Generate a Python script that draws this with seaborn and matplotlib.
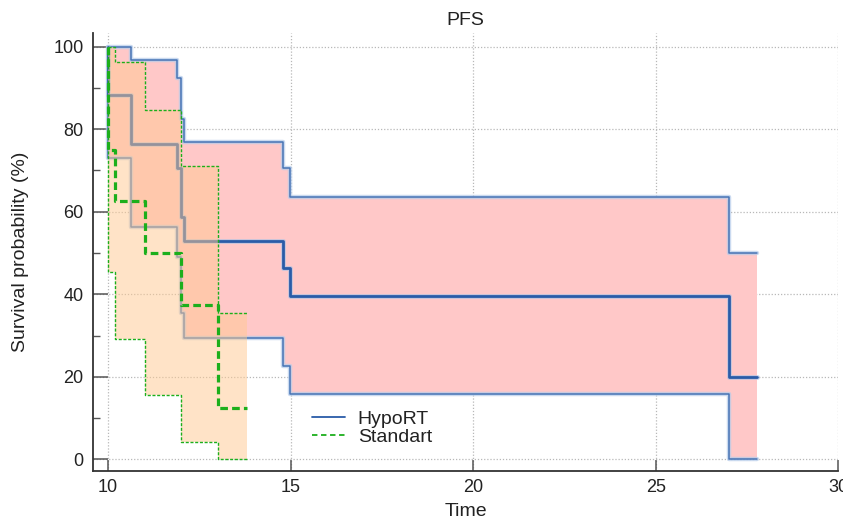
import matplotlib
matplotlib.use("Agg")
import matplotlib.pyplot as plt
import matplotlib.patheffects as pe
from matplotlib.lines import Line2D
from matplotlib.ticker import MultipleLocator
import seaborn as sns

# Kaplan-Meier estimates with 95% confidence bands (time, survival %)
hypo_time = [10.0, 10.0, 10.62, 11.9, 12.0, 12.09, 14.79, 14.97, 27.0, 27.77]
hypo_surv = [100.0, 88.2, 76.5, 70.6, 58.8, 52.9, 46.3, 39.7, 19.9, 19.9]
hypo_upper = [100.0, 100.0, 96.8, 92.3, 82.5, 76.8, 70.6, 63.5, 50.0, 50.0]
hypo_lower = [100.0, 73.0, 56.4, 49.1, 35.4, 29.3, 22.5, 15.8, 0.0, 0.0]

std_time = [10.0, 10.0, 10.18, 11.0, 12.0, 13.0, 13.8]
std_surv = [100.0, 75.0, 62.5, 50.0, 37.5, 12.5, 12.5]
std_upper = [100.0, 100.0, 96.2, 84.7, 71.1, 35.4, 35.4]
std_lower = [100.0, 45.3, 29.1, 15.6, 4.1, 0.0, 0.0]

group_names = ["HypoRT", "Standart"]
x_ticks = [10, 15, 20, 25, 30]
y_ticks = [0, 20, 40, 60, 80, 100]

sns.set_theme(style="white")
plt.rcParams["font.family"] = ["Liberation Sans", "DejaVu Sans"]
plt.rcParams["text.color"] = "#222222"
plt.rcParams["axes.labelcolor"] = "#222222"

fig = plt.figure(figsize=(8.43, 5.20), dpi=100)
ax = fig.add_axes([0.1100, 0.0948, 0.8845, 0.8412])

blue = "#2A5CA8"
blue_ci = "#4673B5"
green = "#1CAF1C"
halo = [pe.Stroke(linewidth=3.2, foreground="#B4CBEA", alpha=0.7), pe.Normal()]

# HypoRT confidence band and curves
ax.fill_between(hypo_time, hypo_lower, hypo_upper, step="post",
                color="#FFC8C8", lw=0, zorder=1)
for y in (hypo_upper, hypo_lower):
    sns.lineplot(x=hypo_time, y=y, estimator=None, sort=False, ax=ax,
                 drawstyle="steps-post", color=blue_ci, lw=1.1, zorder=2,
                 path_effects=halo)
sns.lineplot(x=hypo_time, y=hypo_surv, estimator=None, sort=False, ax=ax,
             drawstyle="steps-post", color=blue, lw=2.0, zorder=2.1,
             path_effects=[pe.Stroke(linewidth=3.6, foreground="#A9C2E6", alpha=0.6), pe.Normal()])

# Standart confidence band (translucent) and curves
ax.fill_between(std_time, std_lower, std_upper, step="post",
                color="#FFC991", alpha=0.5, lw=0, zorder=3)
for y in (std_upper, std_lower):
    sns.lineplot(x=std_time, y=y, estimator=None, sort=False, ax=ax,
                 drawstyle="steps-post", color=green, lw=1.0,
                 linestyle=(0, (2.2, 1.2)), zorder=4)
sns.lineplot(x=std_time, y=std_surv, estimator=None, sort=False, ax=ax,
             drawstyle="steps-post", color=green, lw=2.3,
             linestyle=(0, (2.4, 1.3)), zorder=4.1)

ax.set_xlim(9.581, 30.0)
ax.set_ylim(-2.76, 103.25)
ax.set_xticks(x_ticks)
ax.set_yticks(y_ticks)
ax.yaxis.set_minor_locator(MultipleLocator(10))
ax.set_axisbelow(True)
ax.grid(True, which="major", color="#B8B8B8", lw=0.9, linestyle=(0, (1, 1.5)))

for s in ("top", "right"):
    ax.spines[s].set_visible(False)
for s in ("left", "bottom"):
    ax.spines[s].set_color("#333333")
    ax.spines[s].set_linewidth(1.3)

ax.tick_params(axis="x", which="major", direction="in", length=8.2, width=1.1,
               color="#555555", labelsize=13, labelcolor="#222222", pad=6, bottom=True)
ax.tick_params(axis="y", which="major", direction="in", length=11.0, width=1.1,
               color="#555555", labelsize=13, labelcolor="#222222", pad=6.5, left=True)
ax.tick_params(axis="y", which="minor", direction="in", length=5.0, width=1.0,
               color="#555555", left=True)

ax.set_title("PFS", fontsize=14, pad=5.8, color="#222222")
ax.set_xlabel("Time", fontsize=14)
ax.set_ylabel("Survival probability (%)", fontsize=14)
ax.xaxis.set_label_coords(0.5, -0.073)
ax.yaxis.set_label_coords(-0.0854, 0.5)

handles = [
    Line2D([], [], color=blue, lw=1.3),
    Line2D([], [], color=green, lw=1.3, linestyle=(0, (3, 2))),
]
fig.legend(handles, group_names, loc="upper left",
           bbox_to_anchor=(0.3697, 0.2106), bbox_transform=fig.transFigure,
           frameon=False, fontsize=14, borderpad=0, borderaxespad=0,
           handlelength=1.7, handletextpad=0.67, labelspacing=0.03)

fig.savefig("out.png", dpi=100)
